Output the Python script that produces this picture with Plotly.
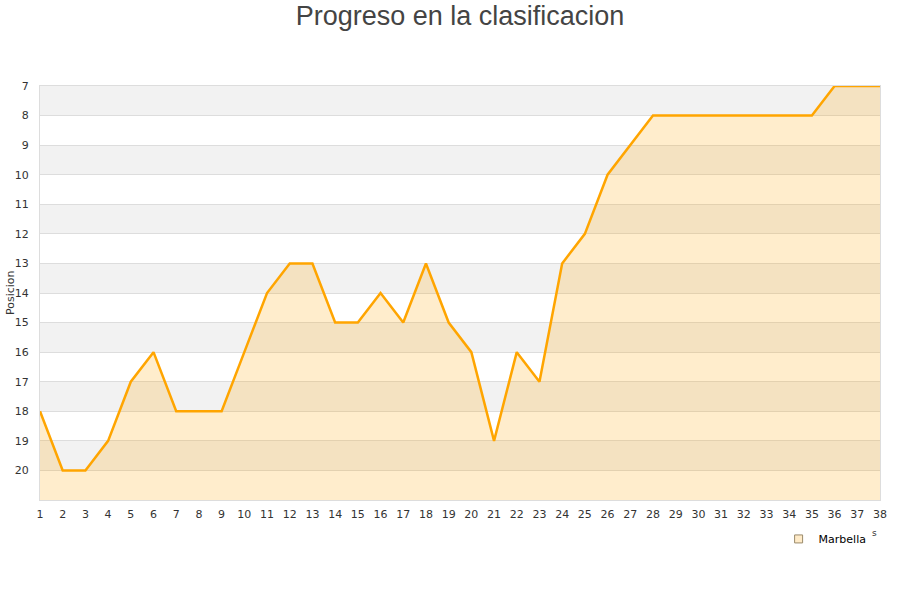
import plotly.graph_objects as go

jornadas = list(range(1, 39))
posiciones = [18, 20, 20, 19, 17, 16, 18, 18, 18, 16, 14, 13, 13, 15, 15, 14, 15, 13, 15, 16,
              19, 16, 17, 13, 12, 10, 9, 8, 8, 8, 8, 8, 8, 8, 8, 7, 7, 7]
equipo = "Marbella"
y_ticks = list(range(7, 21))
fondo = 21

fig = go.Figure()
# baseline for fill
fig.add_trace(go.Scatter(x=jornadas, y=[fondo] * len(jornadas), mode="lines",
                         line=dict(width=0, color="rgba(0,0,0,0)"), showlegend=False, hoverinfo="skip"))
fig.add_trace(go.Scatter(x=jornadas, y=posiciones, mode="lines", fill="tonexty",
                         fillcolor="rgba(255,165,0,0.2)",
                         line=dict(color="#ffa500", width=2.5), showlegend=False, name=equipo))
# legend entry
fig.add_trace(go.Scatter(x=[None], y=[None], mode="markers", name=equipo,
                         marker=dict(symbol="square", size=8, color="#ffebc8",
                                     line=dict(color="#9a8a6a", width=1))))

shapes = []
for v in range(7, 21, 2):
    shapes.append(dict(type="rect", xref="paper", x0=0, x1=1, yref="y", y0=v, y1=v + 1,
                       fillcolor="#f2f2f2", line=dict(width=0), layer="below"))

fig.update_layout(
    width=900, height=600,
    paper_bgcolor="white", plot_bgcolor="white",
    margin=dict(l=40, r=20, t=86, b=100, autoexpand=False),
    title=dict(text="Progreso en la clasificacion", x=0.5, xanchor="center", xref="paper",
               yref="container", y=0.974, yanchor="middle",
               font=dict(family="Liberation Sans, Arial", size=27, color="#444444")),
    shapes=shapes,
    font=dict(family="DejaVu Sans", size=11, color="#333333"),
    xaxis=dict(range=[1, 38], tickmode="array", tickvals=jornadas, ticktext=[str(j) for j in jornadas],
               showgrid=False, zeroline=False, showline=True, linecolor="#dddddd", ticks="",
               ticklabelstandoff=4,
               tickfont=dict(size=11, color="#333333"), mirror=True, automargin=False),
    yaxis=dict(range=[21, 7], tickmode="array", tickvals=y_ticks, ticktext=[str(t) for t in y_ticks],
               showgrid=True, gridcolor="#dddddd", gridwidth=1, zeroline=False, showline=True,
               linecolor="#dddddd", mirror=True, ticks="", ticklabelstandoff=8, automargin=False,
               tickfont=dict(size=11, color="#333333")),
    legend=dict(orientation="h", x=0.99, xanchor="right", y=-0.059, yanchor="top",
                font=dict(size=11, color="#000000"), bgcolor="rgba(0,0,0,0)"),
    showlegend=True,
)
fig.add_annotation(text="Posicion", xref="paper", yref="paper", x=-0.0357, y=0.5, textangle=-90,
                   showarrow=False, font=dict(size=11, color="#333333"),
                   xanchor="center", yanchor="middle")
fig.add_annotation(text="s", xref="paper", yref="paper", x=0.994, y=-0.08, showarrow=False,
                   font=dict(size=9, color="#333333"), xanchor="center", yanchor="middle")

fig.write_html("out.html", config={"displayModeBar": False},
               post_script="document.body.style.margin='0';")
